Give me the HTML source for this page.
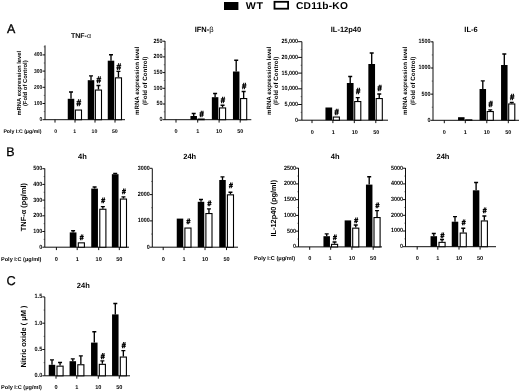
<!DOCTYPE html>
<html><head><meta charset="utf-8"><title>Figure</title>
<style>html,body{margin:0;padding:0;background:#fff}svg{display:block}</style></head>
<body>
<svg width="520" height="392" viewBox="0 0 520 392" font-family='"Liberation Sans", Arial, sans-serif' fill="#000" text-rendering="geometricPrecision">
<rect width="520" height="392" fill="#fff"/>
<rect x="224" y="2" width="14.4" height="8" fill="#000"/>
<text transform="translate(245.7 8.9) scale(1.1 1)" font-size="9.7" font-weight="bold" letter-spacing="0.7" text-rendering="geometricPrecision">WT</text>
<rect x="274.5" y="1.8" width="13.6" height="6.9" fill="#fff" stroke="#000" stroke-width="1.8"/>
<text transform="translate(296 8.7) scale(1.02 1)" font-size="10" font-weight="bold" letter-spacing="0.2" text-rendering="geometricPrecision">CD11b-KO</text>
<text x="7.1" y="32.8" font-size="12.4" font-weight="normal" text-anchor="start" stroke="#000" stroke-width="0.35">A</text>
<text x="6.3" y="156" font-size="12.5" font-weight="normal" text-anchor="start" stroke="#000" stroke-width="0.3">B</text>
<text x="6.4" y="284.5" font-size="12.8" font-weight="normal" text-anchor="start" stroke="#000" stroke-width="0.3">C</text>
<g>
<path d="M45 45.4V119.7H125" fill="none" stroke="#000" stroke-width="0.95"/>
<path d="M42.5 119.7H45" stroke="#000" stroke-width="0.95"/>
<text transform="translate(42.4 121.15) scale(1 1.12)" font-size="5.0" font-weight="bold" text-anchor="end">0</text>
<path d="M42.5 103.5H45" stroke="#000" stroke-width="0.95"/>
<text transform="translate(42.4 104.95) scale(1 1.12)" font-size="5.0" font-weight="bold" text-anchor="end">100</text>
<path d="M42.5 87.3H45" stroke="#000" stroke-width="0.95"/>
<text transform="translate(42.4 88.75) scale(1 1.12)" font-size="5.0" font-weight="bold" text-anchor="end">200</text>
<path d="M42.5 71.1H45" stroke="#000" stroke-width="0.95"/>
<text transform="translate(42.4 72.55) scale(1 1.12)" font-size="5.0" font-weight="bold" text-anchor="end">300</text>
<path d="M42.5 54.9H45" stroke="#000" stroke-width="0.95"/>
<text transform="translate(42.4 56.35) scale(1 1.12)" font-size="5.0" font-weight="bold" text-anchor="end">400</text>
<path d="M43.7 111.6H45M43.7 95.4H45M43.7 79.2H45M43.7 63H45M43.7 46.8H45" stroke="#000" stroke-width="0.6" opacity="0.7"/>
<path d="M55 119.7V122.6" stroke="#000" stroke-width="0.95"/>
<path d="M75 119.7V122.6" stroke="#000" stroke-width="0.95"/>
<path d="M95 119.7V122.6" stroke="#000" stroke-width="0.95"/>
<path d="M115 119.7V122.6" stroke="#000" stroke-width="0.95"/>
<path d="M71 98.8V92M69 92H73" stroke="#000" stroke-width="1.35" fill="none"/>
<rect x="67.75" y="98.8" width="6.5" height="20.9" fill="#000"/>
<rect x="75.4" y="110.05" width="6.1" height="9.65" fill="#fff" stroke="#000" stroke-width="1.1"/>
<text transform="translate(78.75 106.3) scale(0.9 1.06)" font-size="8.8" font-weight="normal" font-style="italic" text-anchor="middle" stroke="#000" stroke-width="0.6">#</text>
<path d="M91 80.2V75.8M89 75.8H93" stroke="#000" stroke-width="1.35" fill="none"/>
<rect x="87.75" y="80.2" width="6.5" height="39.5" fill="#000"/>
<path d="M98.45 89.5V85.5M96.45 85.5H100.45" stroke="#000" stroke-width="1.35" fill="none"/>
<rect x="95.4" y="90.05" width="6.1" height="29.65" fill="#fff" stroke="#000" stroke-width="1.1"/>
<text transform="translate(98.75 83.4) scale(0.9 1.06)" font-size="8.8" font-weight="normal" font-style="italic" text-anchor="middle" stroke="#000" stroke-width="0.6">#</text>
<path d="M111 60.7V54.7M109 54.7H113" stroke="#000" stroke-width="1.35" fill="none"/>
<rect x="107.75" y="60.7" width="6.5" height="59" fill="#000"/>
<path d="M118.45 77.3V71.4M116.45 71.4H120.45" stroke="#000" stroke-width="1.35" fill="none"/>
<rect x="115.4" y="77.85" width="6.1" height="41.85" fill="#fff" stroke="#000" stroke-width="1.1"/>
<text transform="translate(118.75 69.5) scale(0.9 1.06)" font-size="8.8" font-weight="normal" font-style="italic" text-anchor="middle" stroke="#000" stroke-width="0.6">#</text>
<text x="55.8" y="132.8" font-size="5.2" font-weight="bold" text-anchor="middle">0</text>
<text x="74.8" y="132.8" font-size="5.2" font-weight="bold" text-anchor="middle">1</text>
<text x="94.4" y="132.8" font-size="5.2" font-weight="bold" text-anchor="middle">10</text>
<text x="114.8" y="132.8" font-size="5.2" font-weight="bold" text-anchor="middle">50</text>
<text x="81" y="37.5" font-size="7.0" font-weight="bold" text-anchor="middle">TNF-<tspan font-weight="normal">α</tspan></text>
<text x="21" y="83.2" font-size="5.85" font-weight="bold" text-anchor="middle" transform="rotate(-90 21 83.2)">mRNA expression level</text>
<text x="27.5" y="83.2" font-size="5.85" font-weight="bold" text-anchor="middle" transform="rotate(-90 27.5 83.2)">(Fold of Control)</text>
</g>
<g>
<path d="M165 41V119.7H251.3" fill="none" stroke="#000" stroke-width="0.95"/>
<path d="M162.5 119.7H165" stroke="#000" stroke-width="0.95"/>
<text transform="translate(162.4 121.15) scale(1 1.12)" font-size="5.4" font-weight="bold" text-anchor="end">0</text>
<path d="M162.5 104H165" stroke="#000" stroke-width="0.95"/>
<text transform="translate(162.4 105.45) scale(1 1.12)" font-size="5.4" font-weight="bold" text-anchor="end">50</text>
<path d="M162.5 88.3H165" stroke="#000" stroke-width="0.95"/>
<text transform="translate(162.4 89.75) scale(1 1.12)" font-size="5.4" font-weight="bold" text-anchor="end">100</text>
<path d="M162.5 72.6H165" stroke="#000" stroke-width="0.95"/>
<text transform="translate(162.4 74.05) scale(1 1.12)" font-size="5.4" font-weight="bold" text-anchor="end">150</text>
<path d="M162.5 56.9H165" stroke="#000" stroke-width="0.95"/>
<text transform="translate(162.4 58.35) scale(1 1.12)" font-size="5.4" font-weight="bold" text-anchor="end">200</text>
<path d="M162.5 41.2H165" stroke="#000" stroke-width="0.95"/>
<text transform="translate(162.4 42.65) scale(1 1.12)" font-size="5.4" font-weight="bold" text-anchor="end">250</text>
<path d="M163.7 111.85H165M163.7 96.15H165M163.7 80.45H165M163.7 64.75H165M163.7 49.05H165" stroke="#000" stroke-width="0.6" opacity="0.7"/>
<path d="M176 119.7V122.6" stroke="#000" stroke-width="0.95"/>
<path d="M197.7 119.7V122.6" stroke="#000" stroke-width="0.95"/>
<path d="M219.1 119.7V122.6" stroke="#000" stroke-width="0.95"/>
<path d="M240.2 119.7V122.6" stroke="#000" stroke-width="0.95"/>
<path d="M193.7 116V113.5M191.7 113.5H195.7" stroke="#000" stroke-width="1.35" fill="none"/>
<rect x="190.45" y="116" width="6.5" height="3.7" fill="#000"/>
<rect x="198.1" y="119.05" width="6.1" height="0.65" fill="#fff" stroke="#000" stroke-width="1.1"/>
<text transform="translate(201.45 116.6) scale(0.9 1.06)" font-size="8.2" font-weight="normal" font-style="italic" text-anchor="middle" stroke="#000" stroke-width="0.6">#</text>
<path d="M215.1 97.2V93.5M213.1 93.5H217.1" stroke="#000" stroke-width="1.35" fill="none"/>
<rect x="211.85" y="97.2" width="6.5" height="22.5" fill="#000"/>
<path d="M222.55 107.4V105.2M220.55 105.2H224.55" stroke="#000" stroke-width="1.35" fill="none"/>
<rect x="219.5" y="107.95" width="6.1" height="11.75" fill="#fff" stroke="#000" stroke-width="1.1"/>
<text transform="translate(222.85 102.6) scale(0.9 1.06)" font-size="8.2" font-weight="normal" font-style="italic" text-anchor="middle" stroke="#000" stroke-width="0.6">#</text>
<path d="M236.2 71.5V60.2M234.2 60.2H238.2" stroke="#000" stroke-width="1.35" fill="none"/>
<rect x="232.95" y="71.5" width="6.5" height="48.2" fill="#000"/>
<path d="M243.65 98V91.5M241.65 91.5H245.65" stroke="#000" stroke-width="1.35" fill="none"/>
<rect x="240.6" y="98.55" width="6.1" height="21.15" fill="#fff" stroke="#000" stroke-width="1.1"/>
<text transform="translate(243.95 88.6) scale(0.9 1.06)" font-size="8.2" font-weight="normal" font-style="italic" text-anchor="middle" stroke="#000" stroke-width="0.6">#</text>
<text x="176" y="133.4" font-size="5.5" font-weight="bold" text-anchor="middle">0</text>
<text x="197.7" y="133.4" font-size="5.5" font-weight="bold" text-anchor="middle">1</text>
<text x="219.1" y="133.4" font-size="5.5" font-weight="bold" text-anchor="middle">10</text>
<text x="240.2" y="133.4" font-size="5.5" font-weight="bold" text-anchor="middle">50</text>
<text x="204.1" y="31.7" font-size="7.5" font-weight="bold" text-anchor="middle">IFN-<tspan font-weight="normal">β</tspan></text>
<text x="139.4" y="80.8" font-size="6.2" font-weight="bold" text-anchor="middle" transform="rotate(-90 139.4 80.8)">mRNA expression level</text>
<text x="147.1" y="80.8" font-size="6.2" font-weight="bold" text-anchor="middle" transform="rotate(-90 147.1 80.8)">(Fold of Control)</text>
</g>
<g>
<path d="M301.9 41.7V120.2H388" fill="none" stroke="#000" stroke-width="0.95"/>
<path d="M298.1 120.2H301.9" stroke="#000" stroke-width="0.95"/>
<text transform="translate(298 121.65) scale(1 1.12)" font-size="5.4" font-weight="bold" text-anchor="end">0</text>
<path d="M298.1 104.5H301.9" stroke="#000" stroke-width="0.95"/>
<text transform="translate(298 105.95) scale(1 1.12)" font-size="5.4" font-weight="bold" text-anchor="end">5,000</text>
<path d="M298.1 88.8H301.9" stroke="#000" stroke-width="0.95"/>
<text transform="translate(298 90.25) scale(1 1.12)" font-size="5.4" font-weight="bold" text-anchor="end">10,000</text>
<path d="M298.1 73.1H301.9" stroke="#000" stroke-width="0.95"/>
<text transform="translate(298 74.55) scale(1 1.12)" font-size="5.4" font-weight="bold" text-anchor="end">15,000</text>
<path d="M298.1 57.4H301.9" stroke="#000" stroke-width="0.95"/>
<text transform="translate(298 58.85) scale(1 1.12)" font-size="5.4" font-weight="bold" text-anchor="end">20,000</text>
<path d="M298.1 41.7H301.9" stroke="#000" stroke-width="0.95"/>
<text transform="translate(298 43.15) scale(1 1.12)" font-size="5.4" font-weight="bold" text-anchor="end">25,000</text>
<path d="M300.6 112.35H301.9M300.6 96.65H301.9M300.6 80.95H301.9M300.6 65.25H301.9M300.6 49.55H301.9" stroke="#000" stroke-width="0.6" opacity="0.7"/>
<path d="M312 120.2V123.1" stroke="#000" stroke-width="0.95"/>
<path d="M332.9 120.2V123.1" stroke="#000" stroke-width="0.95"/>
<path d="M354.3 120.2V123.1" stroke="#000" stroke-width="0.95"/>
<path d="M375.8 120.2V123.1" stroke="#000" stroke-width="0.95"/>
<rect x="325.45" y="107.5" width="6.7" height="12.7" fill="#000"/>
<rect x="333.3" y="117.05" width="6.1" height="3.15" fill="#fff" stroke="#000" stroke-width="1.1"/>
<text transform="translate(336.65 115.1) scale(0.9 1.06)" font-size="8.2" font-weight="normal" font-style="italic" text-anchor="middle" stroke="#000" stroke-width="0.6">#</text>
<path d="M350.2 83V76.5M348.2 76.5H352.2" stroke="#000" stroke-width="1.35" fill="none"/>
<rect x="346.85" y="83" width="6.7" height="37.2" fill="#000"/>
<path d="M357.75 101V97.6M355.75 97.6H359.75" stroke="#000" stroke-width="1.35" fill="none"/>
<rect x="354.7" y="101.55" width="6.1" height="18.65" fill="#fff" stroke="#000" stroke-width="1.1"/>
<text transform="translate(358.05 94.2) scale(0.9 1.06)" font-size="8.2" font-weight="normal" font-style="italic" text-anchor="middle" stroke="#000" stroke-width="0.6">#</text>
<path d="M371.7 64V53M369.7 53H373.7" stroke="#000" stroke-width="1.35" fill="none"/>
<rect x="368.35" y="64" width="6.7" height="56.2" fill="#000"/>
<path d="M379.25 98V94M377.25 94H381.25" stroke="#000" stroke-width="1.35" fill="none"/>
<rect x="376.2" y="98.55" width="6.1" height="21.65" fill="#fff" stroke="#000" stroke-width="1.1"/>
<text transform="translate(379.55 90.8) scale(0.9 1.06)" font-size="8.2" font-weight="normal" font-style="italic" text-anchor="middle" stroke="#000" stroke-width="0.6">#</text>
<text x="312.3" y="133.5" font-size="5.5" font-weight="bold" text-anchor="middle">0</text>
<text x="333.3" y="133.5" font-size="5.5" font-weight="bold" text-anchor="middle">1</text>
<text x="354.8" y="133.5" font-size="5.5" font-weight="bold" text-anchor="middle">10</text>
<text x="376.3" y="133.5" font-size="5.5" font-weight="bold" text-anchor="middle">50</text>
<text x="346" y="31.6" font-size="7.5" font-weight="bold" text-anchor="middle">IL-12p40</text>
<text x="270.7" y="80.8" font-size="6.2" font-weight="bold" text-anchor="middle" transform="rotate(-90 270.7 80.8)">mRNA expression level</text>
<text x="278.4" y="80.8" font-size="6.2" font-weight="bold" text-anchor="middle" transform="rotate(-90 278.4 80.8)">(Fold of Control)</text>
</g>
<g>
<path d="M433 41.5V120.3H519" fill="none" stroke="#000" stroke-width="0.95"/>
<path d="M430.5 120.3H433" stroke="#000" stroke-width="0.95"/>
<text transform="translate(430.4 121.75) scale(1 1.12)" font-size="5.4" font-weight="bold" text-anchor="end">0</text>
<path d="M430.5 94.15H433" stroke="#000" stroke-width="0.95"/>
<text transform="translate(430.4 95.6) scale(1 1.12)" font-size="5.4" font-weight="bold" text-anchor="end">500</text>
<path d="M430.5 68H433" stroke="#000" stroke-width="0.95"/>
<text transform="translate(430.4 69.45) scale(1 1.12)" font-size="5.4" font-weight="bold" text-anchor="end">1000</text>
<path d="M430.5 41.85H433" stroke="#000" stroke-width="0.95"/>
<text transform="translate(430.4 43.3) scale(1 1.12)" font-size="5.4" font-weight="bold" text-anchor="end">1500</text>
<path d="M431.7 107.22H433M431.7 81.08H433M431.7 54.93H433" stroke="#000" stroke-width="0.6" opacity="0.7"/>
<path d="M444.3 120.3V123.2" stroke="#000" stroke-width="0.95"/>
<path d="M465.3 120.3V123.2" stroke="#000" stroke-width="0.95"/>
<path d="M486.8 120.3V123.2" stroke="#000" stroke-width="0.95"/>
<path d="M508.3 120.3V123.2" stroke="#000" stroke-width="0.95"/>
<rect x="458.05" y="117.2" width="6.5" height="3.1" fill="#000"/>
<rect x="465.7" y="119.85" width="6.1" height="0.45" fill="#fff" stroke="#000" stroke-width="1.1"/>
<path d="M482.8 89V80.8M480.8 80.8H484.8" stroke="#000" stroke-width="1.35" fill="none"/>
<rect x="479.55" y="89" width="6.5" height="31.3" fill="#000"/>
<path d="M490.25 111V109.8M488.25 109.8H492.25" stroke="#000" stroke-width="1.35" fill="none"/>
<rect x="487.2" y="111.55" width="6.1" height="8.75" fill="#fff" stroke="#000" stroke-width="1.1"/>
<text transform="translate(490.55 107.1) scale(0.9 1.06)" font-size="8.2" font-weight="normal" font-style="italic" text-anchor="middle" stroke="#000" stroke-width="0.6">#</text>
<path d="M504.3 65V54M502.3 54H506.3" stroke="#000" stroke-width="1.35" fill="none"/>
<rect x="501.05" y="65" width="6.5" height="55.3" fill="#000"/>
<path d="M511.75 103.4V102.4M509.75 102.4H513.75" stroke="#000" stroke-width="1.35" fill="none"/>
<rect x="508.7" y="103.95" width="6.1" height="16.35" fill="#fff" stroke="#000" stroke-width="1.1"/>
<text transform="translate(512.05 100.1) scale(0.9 1.06)" font-size="8.2" font-weight="normal" font-style="italic" text-anchor="middle" stroke="#000" stroke-width="0.6">#</text>
<text x="444.3" y="133.5" font-size="5.5" font-weight="bold" text-anchor="middle">0</text>
<text x="465.3" y="133.5" font-size="5.5" font-weight="bold" text-anchor="middle">1</text>
<text x="486.8" y="133.5" font-size="5.5" font-weight="bold" text-anchor="middle">10</text>
<text x="508.3" y="133.5" font-size="5.5" font-weight="bold" text-anchor="middle">50</text>
<text x="471" y="31.5" font-size="7.5" font-weight="bold" text-anchor="middle">IL-6</text>
<text x="407.5" y="80.8" font-size="6.2" font-weight="bold" text-anchor="middle" transform="rotate(-90 407.5 80.8)">mRNA expression level</text>
<text x="415.2" y="80.8" font-size="6.2" font-weight="bold" text-anchor="middle" transform="rotate(-90 415.2 80.8)">(Fold of Control)</text>
</g>
<g>
<path d="M44.8 168.5V247.2H129" fill="none" stroke="#000" stroke-width="0.95"/>
<path d="M42.3 247.2H44.8" stroke="#000" stroke-width="0.95"/>
<text transform="translate(42.2 248.65) scale(1 1.12)" font-size="5.4" font-weight="bold" text-anchor="end">0</text>
<path d="M42.3 231.5H44.8" stroke="#000" stroke-width="0.95"/>
<text transform="translate(42.2 232.95) scale(1 1.12)" font-size="5.4" font-weight="bold" text-anchor="end">100</text>
<path d="M42.3 215.8H44.8" stroke="#000" stroke-width="0.95"/>
<text transform="translate(42.2 217.25) scale(1 1.12)" font-size="5.4" font-weight="bold" text-anchor="end">200</text>
<path d="M42.3 200.1H44.8" stroke="#000" stroke-width="0.95"/>
<text transform="translate(42.2 201.55) scale(1 1.12)" font-size="5.4" font-weight="bold" text-anchor="end">300</text>
<path d="M42.3 184.4H44.8" stroke="#000" stroke-width="0.95"/>
<text transform="translate(42.2 185.85) scale(1 1.12)" font-size="5.4" font-weight="bold" text-anchor="end">400</text>
<path d="M42.3 168.7H44.8" stroke="#000" stroke-width="0.95"/>
<text transform="translate(42.2 170.15) scale(1 1.12)" font-size="5.4" font-weight="bold" text-anchor="end">500</text>
<path d="M43.5 239.35H44.8M43.5 223.65H44.8M43.5 207.95H44.8M43.5 192.25H44.8M43.5 176.55H44.8" stroke="#000" stroke-width="0.6" opacity="0.7"/>
<path d="M56.4 247.2V250.1" stroke="#000" stroke-width="0.95"/>
<path d="M77.2 247.2V250.1" stroke="#000" stroke-width="0.95"/>
<path d="M98.7 247.2V250.1" stroke="#000" stroke-width="0.95"/>
<path d="M119.3 247.2V250.1" stroke="#000" stroke-width="0.95"/>
<path d="M73.1 232.4V230.7M71.1 230.7H75.1" stroke="#000" stroke-width="1.35" fill="none"/>
<rect x="69.75" y="232.4" width="6.7" height="14.8" fill="#000"/>
<rect x="78.3" y="242.85" width="6.1" height="4.35" fill="#fff" stroke="#000" stroke-width="1.1"/>
<text transform="translate(81.65 239.9) scale(0.9 1.06)" font-size="7.3" font-weight="normal" font-style="italic" text-anchor="middle" stroke="#000" stroke-width="0.6">#</text>
<path d="M94.6 188.6V187M92.6 187H96.6" stroke="#000" stroke-width="1.35" fill="none"/>
<rect x="91.25" y="188.6" width="6.7" height="58.6" fill="#000"/>
<path d="M102.85 208.7V206.6M100.85 206.6H104.85" stroke="#000" stroke-width="1.35" fill="none"/>
<rect x="99.8" y="209.25" width="6.1" height="37.95" fill="#fff" stroke="#000" stroke-width="1.1"/>
<text transform="translate(103.15 202.6) scale(0.9 1.06)" font-size="7.3" font-weight="normal" font-style="italic" text-anchor="middle" stroke="#000" stroke-width="0.6">#</text>
<path d="M115.2 174.2V173.4M113.2 173.4H117.2" stroke="#000" stroke-width="1.35" fill="none"/>
<rect x="111.85" y="174.2" width="6.7" height="73" fill="#000"/>
<path d="M123.45 198.5V196.8M121.45 196.8H125.45" stroke="#000" stroke-width="1.35" fill="none"/>
<rect x="120.4" y="199.05" width="6.1" height="48.15" fill="#fff" stroke="#000" stroke-width="1.1"/>
<text transform="translate(123.75 193.6) scale(0.9 1.06)" font-size="7.3" font-weight="normal" font-style="italic" text-anchor="middle" stroke="#000" stroke-width="0.6">#</text>
<text x="56.4" y="260.9" font-size="5.6" font-weight="bold" text-anchor="middle">0</text>
<text x="77.2" y="260.9" font-size="5.6" font-weight="bold" text-anchor="middle">1</text>
<text x="98.7" y="260.9" font-size="5.6" font-weight="bold" text-anchor="middle">10</text>
<text x="119.3" y="260.9" font-size="5.6" font-weight="bold" text-anchor="middle">50</text>
<text x="82.4" y="159" font-size="7.5" font-weight="bold" text-anchor="middle">4h</text>
<text x="26.4" y="207.1" font-size="7.45" font-weight="bold" text-anchor="middle" transform="rotate(-90 26.4 207.1)">TNF-α (pg/ml)</text>
</g>
<g>
<path d="M152.3 168.5V247.2H238" fill="none" stroke="#000" stroke-width="0.95"/>
<path d="M149.8 247.2H152.3" stroke="#000" stroke-width="0.95"/>
<text transform="translate(149.7 248.65) scale(1 1.12)" font-size="5.4" font-weight="bold" text-anchor="end">0</text>
<path d="M149.8 220.9H152.3" stroke="#000" stroke-width="0.95"/>
<text transform="translate(149.7 222.35) scale(1 1.12)" font-size="5.4" font-weight="bold" text-anchor="end">1000</text>
<path d="M149.8 194.6H152.3" stroke="#000" stroke-width="0.95"/>
<text transform="translate(149.7 196.05) scale(1 1.12)" font-size="5.4" font-weight="bold" text-anchor="end">2000</text>
<path d="M149.8 168.3H152.3" stroke="#000" stroke-width="0.95"/>
<text transform="translate(149.7 169.75) scale(1 1.12)" font-size="5.4" font-weight="bold" text-anchor="end">3000</text>
<path d="M151 234.05H152.3M151 207.75H152.3M151 181.45H152.3" stroke="#000" stroke-width="0.6" opacity="0.7"/>
<path d="M163.2 247.2V250.1" stroke="#000" stroke-width="0.95"/>
<path d="M184 247.2V250.1" stroke="#000" stroke-width="0.95"/>
<path d="M205 247.2V250.1" stroke="#000" stroke-width="0.95"/>
<path d="M226.5 247.2V250.1" stroke="#000" stroke-width="0.95"/>
<rect x="176.75" y="218.6" width="6.5" height="28.6" fill="#000"/>
<rect x="184.9" y="228.05" width="6.1" height="19.15" fill="#fff" stroke="#000" stroke-width="1.1"/>
<text transform="translate(188.25 224.2) scale(0.9 1.06)" font-size="7.3" font-weight="normal" font-style="italic" text-anchor="middle" stroke="#000" stroke-width="0.6">#</text>
<path d="M201 201.8V199.5M199 199.5H203" stroke="#000" stroke-width="1.35" fill="none"/>
<rect x="197.75" y="201.8" width="6.5" height="45.4" fill="#000"/>
<path d="M208.95 213V208.8M206.95 208.8H210.95" stroke="#000" stroke-width="1.35" fill="none"/>
<rect x="205.9" y="213.55" width="6.1" height="33.65" fill="#fff" stroke="#000" stroke-width="1.1"/>
<text transform="translate(209.25 205.6) scale(0.9 1.06)" font-size="7.3" font-weight="normal" font-style="italic" text-anchor="middle" stroke="#000" stroke-width="0.6">#</text>
<path d="M222.5 180V176.8M220.5 176.8H224.5" stroke="#000" stroke-width="1.35" fill="none"/>
<rect x="219.25" y="180" width="6.5" height="67.2" fill="#000"/>
<path d="M230.45 194.3V192.2M228.45 192.2H232.45" stroke="#000" stroke-width="1.35" fill="none"/>
<rect x="227.4" y="194.85" width="6.1" height="52.35" fill="#fff" stroke="#000" stroke-width="1.1"/>
<text transform="translate(230.75 188.1) scale(0.9 1.06)" font-size="7.3" font-weight="normal" font-style="italic" text-anchor="middle" stroke="#000" stroke-width="0.6">#</text>
<text x="163.2" y="260.9" font-size="5.6" font-weight="bold" text-anchor="middle">0</text>
<text x="184" y="260.9" font-size="5.6" font-weight="bold" text-anchor="middle">1</text>
<text x="205" y="260.9" font-size="5.6" font-weight="bold" text-anchor="middle">10</text>
<text x="226.5" y="260.9" font-size="5.6" font-weight="bold" text-anchor="middle">50</text>
<text x="189.7" y="159" font-size="7.5" font-weight="bold" text-anchor="middle">24h</text>
</g>
<g>
<path d="M298.5 168V246.9H382" fill="none" stroke="#000" stroke-width="0.95"/>
<path d="M296 246.9H298.5" stroke="#000" stroke-width="0.95"/>
<text transform="translate(295.9 248.35) scale(1 1.12)" font-size="5.4" font-weight="bold" text-anchor="end">0</text>
<path d="M296 231.15H298.5" stroke="#000" stroke-width="0.95"/>
<text transform="translate(295.9 232.6) scale(1 1.12)" font-size="5.4" font-weight="bold" text-anchor="end">500</text>
<path d="M296 215.4H298.5" stroke="#000" stroke-width="0.95"/>
<text transform="translate(295.9 216.85) scale(1 1.12)" font-size="5.4" font-weight="bold" text-anchor="end">1000</text>
<path d="M296 199.65H298.5" stroke="#000" stroke-width="0.95"/>
<text transform="translate(295.9 201.1) scale(1 1.12)" font-size="5.4" font-weight="bold" text-anchor="end">1500</text>
<path d="M296 183.9H298.5" stroke="#000" stroke-width="0.95"/>
<text transform="translate(295.9 185.35) scale(1 1.12)" font-size="5.4" font-weight="bold" text-anchor="end">2000</text>
<path d="M296 168.15H298.5" stroke="#000" stroke-width="0.95"/>
<text transform="translate(295.9 169.6) scale(1 1.12)" font-size="5.4" font-weight="bold" text-anchor="end">2500</text>
<path d="M297.2 239.03H298.5M297.2 223.28H298.5M297.2 207.53H298.5M297.2 191.78H298.5M297.2 176.03H298.5" stroke="#000" stroke-width="0.6" opacity="0.7"/>
<path d="M309.7 246.9V249.8" stroke="#000" stroke-width="0.95"/>
<path d="M330.7 246.9V249.8" stroke="#000" stroke-width="0.95"/>
<path d="M351.9 246.9V249.8" stroke="#000" stroke-width="0.95"/>
<path d="M373.2 246.9V249.8" stroke="#000" stroke-width="0.95"/>
<path d="M326.7 236.2V233.8M324.7 233.8H328.7" stroke="#000" stroke-width="1.35" fill="none"/>
<rect x="323.45" y="236.2" width="6.5" height="10.7" fill="#000"/>
<path d="M334.55 243.8V242M332.55 242H336.55" stroke="#000" stroke-width="1.35" fill="none"/>
<rect x="331.5" y="244.35" width="6.1" height="2.55" fill="#fff" stroke="#000" stroke-width="1.1"/>
<text transform="translate(334.85 240.4) scale(0.9 1.06)" font-size="7.3" font-weight="normal" font-style="italic" text-anchor="middle" stroke="#000" stroke-width="0.6">#</text>
<rect x="344.65" y="220.4" width="6.5" height="26.5" fill="#000"/>
<path d="M355.75 227.6V225M353.75 225H357.75" stroke="#000" stroke-width="1.35" fill="none"/>
<rect x="352.7" y="228.15" width="6.1" height="18.75" fill="#fff" stroke="#000" stroke-width="1.1"/>
<text transform="translate(356.05 222.6) scale(0.9 1.06)" font-size="7.3" font-weight="normal" font-style="italic" text-anchor="middle" stroke="#000" stroke-width="0.6">#</text>
<path d="M369.2 184.6V176.7M367.2 176.7H371.2" stroke="#000" stroke-width="1.35" fill="none"/>
<rect x="365.95" y="184.6" width="6.5" height="62.3" fill="#000"/>
<path d="M377.05 217V210.6M375.05 210.6H379.05" stroke="#000" stroke-width="1.35" fill="none"/>
<rect x="374" y="217.55" width="6.1" height="29.35" fill="#fff" stroke="#000" stroke-width="1.1"/>
<text transform="translate(377.35 207.9) scale(0.9 1.06)" font-size="7.3" font-weight="normal" font-style="italic" text-anchor="middle" stroke="#000" stroke-width="0.6">#</text>
<text x="309.9" y="260.4" font-size="5.6" font-weight="bold" text-anchor="middle">0</text>
<text x="330" y="260.4" font-size="5.6" font-weight="bold" text-anchor="middle">1</text>
<text x="351.9" y="260.4" font-size="5.6" font-weight="bold" text-anchor="middle">10</text>
<text x="373.2" y="260.4" font-size="5.6" font-weight="bold" text-anchor="middle">50</text>
<text x="335.2" y="159" font-size="7.5" font-weight="bold" text-anchor="middle">4h</text>
<text x="276" y="208.2" font-size="7.4" font-weight="bold" text-anchor="middle" transform="rotate(-90 276 208.2)">IL-12p40 (pg/ml)</text>
</g>
<g>
<path d="M405.5 168V246.7H496" fill="none" stroke="#000" stroke-width="0.95"/>
<path d="M403 246.7H405.5" stroke="#000" stroke-width="0.95"/>
<text transform="translate(402.9 248.15) scale(1 1.12)" font-size="5.4" font-weight="bold" text-anchor="end">0</text>
<path d="M403 231H405.5" stroke="#000" stroke-width="0.95"/>
<text transform="translate(402.9 232.45) scale(1 1.12)" font-size="5.4" font-weight="bold" text-anchor="end">1000</text>
<path d="M403 215.3H405.5" stroke="#000" stroke-width="0.95"/>
<text transform="translate(402.9 216.75) scale(1 1.12)" font-size="5.4" font-weight="bold" text-anchor="end">2000</text>
<path d="M403 199.6H405.5" stroke="#000" stroke-width="0.95"/>
<text transform="translate(402.9 201.05) scale(1 1.12)" font-size="5.4" font-weight="bold" text-anchor="end">3000</text>
<path d="M403 183.9H405.5" stroke="#000" stroke-width="0.95"/>
<text transform="translate(402.9 185.35) scale(1 1.12)" font-size="5.4" font-weight="bold" text-anchor="end">4000</text>
<path d="M403 168.2H405.5" stroke="#000" stroke-width="0.95"/>
<text transform="translate(402.9 169.65) scale(1 1.12)" font-size="5.4" font-weight="bold" text-anchor="end">5000</text>
<path d="M404.2 238.85H405.5M404.2 223.15H405.5M404.2 207.45H405.5M404.2 191.75H405.5M404.2 176.05H405.5" stroke="#000" stroke-width="0.6" opacity="0.7"/>
<path d="M417.2 246.7V249.6" stroke="#000" stroke-width="0.95"/>
<path d="M437.8 246.7V249.6" stroke="#000" stroke-width="0.95"/>
<path d="M459 246.7V249.6" stroke="#000" stroke-width="0.95"/>
<path d="M480.1 246.7V249.6" stroke="#000" stroke-width="0.95"/>
<path d="M433.8 236.2V233.5M431.8 233.5H435.8" stroke="#000" stroke-width="1.35" fill="none"/>
<rect x="430.55" y="236.2" width="6.5" height="10.5" fill="#000"/>
<path d="M442.05 241.8V239.5M440.05 239.5H444.05" stroke="#000" stroke-width="1.35" fill="none"/>
<rect x="439" y="242.35" width="6.1" height="4.35" fill="#fff" stroke="#000" stroke-width="1.1"/>
<text transform="translate(442.35 237.7) scale(0.9 1.06)" font-size="7.3" font-weight="normal" font-style="italic" text-anchor="middle" stroke="#000" stroke-width="0.6">#</text>
<path d="M455 221.7V216.6M453 216.6H457" stroke="#000" stroke-width="1.35" fill="none"/>
<rect x="451.75" y="221.7" width="6.5" height="25" fill="#000"/>
<path d="M463.25 232.5V228.2M461.25 228.2H465.25" stroke="#000" stroke-width="1.35" fill="none"/>
<rect x="460.2" y="233.05" width="6.1" height="13.65" fill="#fff" stroke="#000" stroke-width="1.1"/>
<text transform="translate(463.55 225.1) scale(0.9 1.06)" font-size="7.3" font-weight="normal" font-style="italic" text-anchor="middle" stroke="#000" stroke-width="0.6">#</text>
<path d="M476.1 190.3V182.5M474.1 182.5H478.1" stroke="#000" stroke-width="1.35" fill="none"/>
<rect x="472.85" y="190.3" width="6.5" height="56.4" fill="#000"/>
<path d="M484.35 220.4V216M482.35 216H486.35" stroke="#000" stroke-width="1.35" fill="none"/>
<rect x="481.3" y="220.95" width="6.1" height="25.75" fill="#fff" stroke="#000" stroke-width="1.1"/>
<text transform="translate(484.65 213.2) scale(0.9 1.06)" font-size="7.3" font-weight="normal" font-style="italic" text-anchor="middle" stroke="#000" stroke-width="0.6">#</text>
<text x="417.2" y="260.4" font-size="5.6" font-weight="bold" text-anchor="middle">0</text>
<text x="437.8" y="260.4" font-size="5.6" font-weight="bold" text-anchor="middle">1</text>
<text x="459" y="260.4" font-size="5.6" font-weight="bold" text-anchor="middle">10</text>
<text x="480.1" y="260.4" font-size="5.6" font-weight="bold" text-anchor="middle">50</text>
<text x="443" y="159" font-size="7.5" font-weight="bold" text-anchor="middle">24h</text>
</g>
<g>
<path d="M44.8 297V375.8H130" fill="none" stroke="#000" stroke-width="0.95"/>
<path d="M42.3 375.8H44.8" stroke="#000" stroke-width="0.95"/>
<text transform="translate(42.2 377.25) scale(1 1.12)" font-size="5.5" font-weight="bold" text-anchor="end">0.0</text>
<path d="M42.3 349.5H44.8" stroke="#000" stroke-width="0.95"/>
<text transform="translate(42.2 350.95) scale(1 1.12)" font-size="5.5" font-weight="bold" text-anchor="end">0.5</text>
<path d="M42.3 323.2H44.8" stroke="#000" stroke-width="0.95"/>
<text transform="translate(42.2 324.65) scale(1 1.12)" font-size="5.5" font-weight="bold" text-anchor="end">1.0</text>
<path d="M42.3 296.9H44.8" stroke="#000" stroke-width="0.95"/>
<text transform="translate(42.2 298.35) scale(1 1.12)" font-size="5.5" font-weight="bold" text-anchor="end">1.5</text>
<path d="M43.5 362.65H44.8M43.5 336.35H44.8M43.5 310.05H44.8" stroke="#000" stroke-width="0.6" opacity="0.7"/>
<path d="M56 375.8V378.7" stroke="#000" stroke-width="0.95"/>
<path d="M76.8 375.8V378.7" stroke="#000" stroke-width="0.95"/>
<path d="M98.3 375.8V378.7" stroke="#000" stroke-width="0.95"/>
<path d="M119.3 375.8V378.7" stroke="#000" stroke-width="0.95"/>
<path d="M52 364.8V359.8M50 359.8H54" stroke="#000" stroke-width="1.35" fill="none"/>
<rect x="48.75" y="364.8" width="6.5" height="11" fill="#000"/>
<path d="M60.05 365.6V362.5M58.05 362.5H62.05" stroke="#000" stroke-width="1.35" fill="none"/>
<rect x="57" y="366.15" width="6.1" height="9.65" fill="#fff" stroke="#000" stroke-width="1.1"/>
<path d="M72.8 361.2V358.8M70.8 358.8H74.8" stroke="#000" stroke-width="1.35" fill="none"/>
<rect x="69.55" y="361.2" width="6.5" height="14.6" fill="#000"/>
<path d="M80.85 364.2V355.9M78.85 355.9H82.85" stroke="#000" stroke-width="1.35" fill="none"/>
<rect x="77.8" y="364.75" width="6.1" height="11.05" fill="#fff" stroke="#000" stroke-width="1.1"/>
<path d="M94.3 342.6V331.7M92.3 331.7H96.3" stroke="#000" stroke-width="1.35" fill="none"/>
<rect x="91.05" y="342.6" width="6.5" height="33.2" fill="#000"/>
<path d="M102.35 363.8V360.8M100.35 360.8H104.35" stroke="#000" stroke-width="1.35" fill="none"/>
<rect x="99.3" y="364.35" width="6.1" height="11.45" fill="#fff" stroke="#000" stroke-width="1.1"/>
<text transform="translate(102.65 358.9) scale(0.9 1.06)" font-size="7.7" font-weight="normal" font-style="italic" text-anchor="middle" stroke="#000" stroke-width="0.6">#</text>
<path d="M115.3 314.4V303.5M113.3 303.5H117.3" stroke="#000" stroke-width="1.35" fill="none"/>
<rect x="112.05" y="314.4" width="6.5" height="61.4" fill="#000"/>
<path d="M123.35 356.5V350.6M121.35 350.6H125.35" stroke="#000" stroke-width="1.35" fill="none"/>
<rect x="120.3" y="357.05" width="6.1" height="18.75" fill="#fff" stroke="#000" stroke-width="1.1"/>
<text transform="translate(123.65 348) scale(0.9 1.06)" font-size="7.7" font-weight="normal" font-style="italic" text-anchor="middle" stroke="#000" stroke-width="0.6">#</text>
<text x="56" y="389.1" font-size="5.6" font-weight="bold" text-anchor="middle">0</text>
<text x="76.8" y="389.1" font-size="5.6" font-weight="bold" text-anchor="middle">1</text>
<text x="98.3" y="389.1" font-size="5.6" font-weight="bold" text-anchor="middle">10</text>
<text x="119.3" y="389.1" font-size="5.6" font-weight="bold" text-anchor="middle">50</text>
<text x="83.3" y="288" font-size="7.5" font-weight="bold" text-anchor="middle">24h</text>
<text x="26" y="336.6" font-size="7.4" font-weight="bold" text-anchor="middle" transform="rotate(-90 26 336.6)">Nitric oxide ( μM )</text>
</g>
<text x="3.4" y="133.1" font-size="5.2" font-weight="bold" text-anchor="start">Poly I:C (μg/ml)</text>
<text x="1.1" y="260.9" font-size="5.5" font-weight="bold" text-anchor="start">Poly I:C (μg/ml)</text>
<text x="254" y="260.4" font-size="5.6" font-weight="bold" text-anchor="start">Poly I:C (μg/ml)</text>
<text x="1.1" y="389.1" font-size="5.55" font-weight="bold" text-anchor="start">Poly I:C (μg/ml)</text>
</svg>
</body></html>
